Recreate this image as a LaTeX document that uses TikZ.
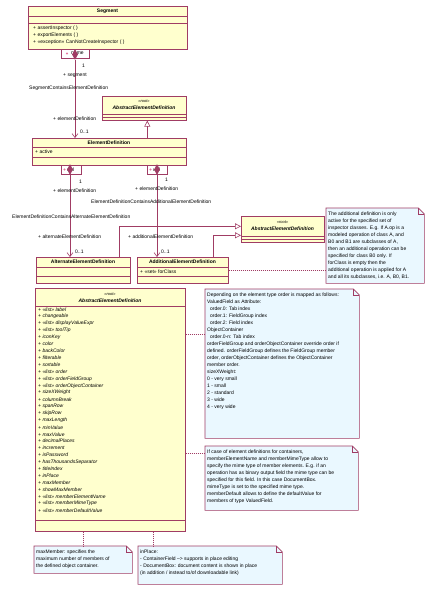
\documentclass[tikz,border=0pt]{standalone}
\usepackage{fontspec}
\setmainfont{Liberation Sans}
\usetikzlibrary{arrows.meta,shapes.geometric}
\definecolor{lc}{RGB}{160,60,100}
\definecolor{cf}{RGB}{255,255,206}
\definecolor{nf}{RGB}{234,248,255}
\definecolor{ic}{RGB}{230,120,160}
\newcommand\drawnote[1]{%
  \draw[notedraw] (#1.north west) -- ([xshift=-6pt]#1.north east) -- ([yshift=-6pt]#1.north east) -- (#1.south east) -- (#1.south west) -- cycle;
  \draw[lc, line width=0.5pt] ([xshift=-6pt]#1.north east) -- ([xshift=-6pt,yshift=-6pt]#1.north east) -- ([yshift=-6pt]#1.north east);
}
\begin{document}
\begin{tikzpicture}[x=1pt,y=-1pt,
  cls/.style={draw=lc, fill=cf, line width=0.6pt, inner sep=0, anchor=north west},
  qual/.style={draw=lc, fill=white, line width=0.6pt, inner sep=0, anchor=north west},
  cline/.style={draw=lc, line width=0.5pt},
  nbox/.style={inner sep=0, anchor=north west},
  notedraw/.style={draw=lc, fill=nf, line width=0.6pt},
  t/.style={font=\fontsize{5}{7}\selectfont, inner sep=0, anchor=west},
  ta/.style={font=\fontsize{5}{7}\selectfont\itshape, inner sep=0, anchor=west},
  ttl/.style={font=\fontsize{5}{7}\selectfont\bfseries, inner sep=0},
  attl/.style={font=\fontsize{5}{7}\selectfont\bfseries\itshape, inner sep=0},
  ster/.style={font=\fontsize{4}{5}\selectfont\itshape, inner sep=0},
  ntext/.style={font=\fontsize{5}{7}\selectfont, inner sep=0, align=left, anchor=north west},
  dia/.style={diamond, fill=lc, inner sep=0, minimum width=6pt, minimum height=11pt},
  assoc/.style={draw=lc, line width=0.6pt, -{Straight Barb[length=4pt,width=6pt]}},
  gen/.style={draw=lc, line width=0.6pt, -{Triangle[open,length=6pt,width=6pt]}},
  dotl/.style={draw=lc, line width=0.5pt, dash pattern=on 1pt off 1pt}
]
\useasboundingbox[fill=white] (0,0) rectangle (431,590);

% ---------- Segment ----------
\node[cls, minimum width=159pt, minimum height=43pt] (seg) at (28,6) {};
\draw[cline] (28,16) -- (187,16);
\draw[cline] (28,23) -- (187,23);
\node[ttl] (segt) at (107.5,11) {Segment};
\node[t] (op1) at (33,28) {+ assertInspector ( )};
\node[t] (op2) at (33,35) {+ exportElements ( )};
\node[t] (op3) at (33,42) {+ «exception» CanNotCreateInspector ( )};
\node[qual, minimum width=28pt, minimum height=9pt] (q1) at (61,49) {};
\fill[ic] (67,53.5) circle (1.2pt);
\node[t] (q1t) at (71,53.5) {name};
\node[dia] (d1) at (75,54.5) {};

% ---------- AbstractElementDefinition (top) ----------
\node[cls, minimum width=84pt, minimum height=24pt] (abs1) at (102,96) {};
\draw[cline] (102,114) -- (186,114);
\draw[cline] (102,117) -- (186,117);
\node[ster] (abs1s) at (144,101) {«root»};
\node[attl] (abs1t) at (144,108) {AbstractElementDefinition};

% ---------- ElementDefinition ----------
\node[cls, minimum width=154pt, minimum height=27pt] (ed) at (32,138) {};
\draw[cline] (32,147) -- (186,147);
\draw[cline] (32,157) -- (186,157);
\node[ttl] (edt) at (109,142.5) {ElementDefinition};
\node[t] (eda) at (35,152) {+ active};
\node[qual, minimum width=20pt, minimum height=9pt] (q2) at (61,165) {};
\fill[ic] (64.5,169.5) circle (1.1pt);
\node[t] (q2t) at (67,169.5) {uid};
\node[qual, minimum width=20pt, minimum height=9pt] (q3) at (147,165) {};
\fill[ic] (150.5,169.5) circle (1.1pt);
\node[t] (q3t) at (153,169.5) {uid};
\node[dia] (d2) at (70,169.5) {};
\node[dia] (d3) at (157,169.5) {};

% ---------- Alternate / Additional ----------
\node[cls, minimum width=94pt, minimum height=26pt] (alt) at (36,257) {};
\draw[cline] (36,267) -- (130,267);
\draw[cline] (36,276) -- (130,276);
\node[ttl] (altt) at (83,262) {AlternateElementDefinition};
\node[cls, minimum width=91pt, minimum height=26pt] (add) at (137,257) {};
\draw[cline] (137,267) -- (228,267);
\draw[cline] (137,276) -- (228,276);
\node[ttl] (addt) at (182.5,262) {AdditionalElementDefinition};
\node[t] (adda) at (140,271.5) {+ «set» forClass};

% ---------- AbstractElementDefinition (right) ----------
\node[cls, minimum width=83pt, minimum height=26pt] (abs2) at (241,216) {};
\draw[cline] (241,236) -- (324,236);
\draw[cline] (241,239) -- (324,239);
\node[ster] (abs2s) at (282.5,222) {«root»};
\node[attl] (abs2t) at (282.5,229) {AbstractElementDefinition};

% ---------- AbstractElementDefinition (big) ----------
\node[cls, minimum width=150pt, minimum height=243pt] (big) at (35,288) {};
\draw[cline] (35,306) -- (185,306);
\draw[cline] (35,520) -- (185,520);
\node[ster] (bigs) at (110,294) {«root»};
\node[attl] (bigt) at (110,300.5) {AbstractElementDefinition};
\foreach \a [count=\i from 0] in {%
  {+ «list» label},{+ changeable},{+ «list» displayValueExpr},{+ «list» toolTip},%
  {+ iconKey},{+ color},{+ backColor},{+ filterable},{+ sortable},{+ «list» order},%
  {+ «list» orderFieldGroup},{+ «list» orderObjectContainer},{+ sizeXWeight},%
  {+ columnBreak},{+ spanRow},{+ skipRow},{+ maxLength},{+ minValue},{+ maxValue},%
  {+ decimalPlaces},{+ increment},{+ isPassword},{+ hasThousandsSeparator},%
  {+ titleIndex},{+ inPlace},{+ maxMember},{+ showMaxMember},%
  {+ «list» memberElementName},{+ «list» memberMimeType},{+ «list» memberDefaultValue}}
  \node[ta] (attr\i) at (38,309.5+6.93*\i) {\a};

% ---------- Notes ----------
\node[nbox, minimum width=98pt, minimum height=75pt] (n1) at (326,208) {};
\drawnote{n1}
\node[ntext] (n1t) at ([xshift=2pt,yshift=-4pt]n1.north west) {The additional definition is only\\active for the specified set of\\inspector classes. E.g. If A.op is a\\modeled operation of class A, and\\B0 and B1 are subclasses of A,\\then an additional operation can be\\specified for class B0 only. If\\forClass is empty then the\\additional operation is applied for A\\and all its subclasses, i.e. A, B0, B1.};

\node[nbox, minimum width=154pt, minimum height=149pt] (n2) at (205,289) {};
\drawnote{n2}
\node[ntext] (n2t) at ([xshift=2pt,yshift=-4pt]n2.north west) {Depending on the element type order is mapped as follows:\\ValuedField as Attribute:\\\hspace*{3pt}order.0: Tab index\\\hspace*{3pt}order.1: FieldGroup index\\\hspace*{3pt}order.2: Field index\\ObjectContainer\\\hspace*{3pt}order.0-n: Tab index\\orderFieldGroup and orderObjectContainer override order if\\defined. orderFieldGroup defines the FieldGroup member\\order, orderObjectContainer defines the ObjectContainer\\member order.\\sizeXWeight:\\0 - very small\\1 - small\\2 - standard\\3 - wide\\4 - very wide};

\node[nbox, minimum width=153pt, minimum height=64pt] (n3) at (205,446) {};
\drawnote{n3}
\node[ntext] (n3t) at ([xshift=2pt,yshift=-3.5pt]n3.north west) {If case of element definitions for containers,\\memberElementName and memberMimeType allow to\\specify the mime type of member elements. E.g. if an\\operation has as binary output field the mime type can be\\specified for this field. In this case DocumentBox.\\mimeType is set to the specified mime type.\\memberDefault allows to define the defaultValue for\\members of type ValuedField.};

\node[nbox, minimum width=98pt, minimum height=27pt] (n4) at (34,546) {};
\drawnote{n4}
\node[ntext] (n4t) at ([xshift=2pt,yshift=-3.5pt]n4.north west) {maxMember: specifies the\\maximum number of members of\\the defined object container.};

\node[nbox, minimum width=144pt, minimum height=38pt] (n5) at (138,546) {};
\drawnote{n5}
\node[ntext] (n5t) at ([xshift=2pt,yshift=-3.5pt]n5.north west) {inPlace:\\- ContainerField --> supports in place editing\\- DocumentBox: document content is shown in place\\(in addition / instead to/of downloadable link)};

% ---------- Connectors ----------
\draw[assoc] (d1.south) -- (d1.south |- ed.north);
\coordinate (g1) at ([xshift=3pt]abs1.south);
\draw[gen] (g1 |- ed.north) -- (g1);
\draw[assoc] (d2.south) -- (d2.south |- alt.north);
\draw[assoc] (d3.south) -- (d3.south |- add.north);
\coordinate (g2) at ([xshift=-11pt]alt.north east);
\coordinate (g2e) at ([yshift=3pt]abs2.west);
\draw[gen] (g2) |- (g2e);
\coordinate (g3) at ([xshift=-15pt]add.north east);
\coordinate (g3e) at ([yshift=-6pt]abs2.west);
\draw[gen] (g3) |- (g3e);

\draw[dotl] (add.east) -- (add.east -| n1.west);
\coordinate (b1) at ([yshift=75.5pt]big.east);
\draw[dotl] (b1) -- (b1 -| n2.west);
\coordinate (b2) at ([yshift=-43.5pt]big.east);
\draw[dotl] (b2) -- (b2 -| n3.west);
\coordinate (b3) at ([xshift=-27pt]big.south);
\draw[dotl] (b3) -- (b3 |- n4.north);
\coordinate (b4) at ([xshift=43pt]big.south);
\draw[dotl] (b4) -- (b4 |- n5.north);

% ---------- Labels ----------
\node[t] (l1) at (82,66) {1};
\node[t] (l2) at (63,75) {+ segment};
\node[t] (l3) at (29,88) {SegmentContainsElementDefinition};
\node[t] (l4) at (53,119) {+ elementDefinition};
\node[t] (l5) at (80,132) {0..1};
\node[t] (l6) at (79,182) {1};
\node[t] (l7) at (53,191) {+ elementDefinition};
\node[t] (l8) at (165,180) {1};
\node[t] (l9) at (135,189) {+ elementDefinition};
\node[t] (l10) at (91,202) {ElementDefinitionContainsAdditionalElementDefinition};
\node[t] (l11) at (12,216.5) {ElementDefinitionContainsAlternateElementDefinition};
\node[t] (l12) at (38,237) {+ alternateElementDefinition};
\node[t] (l13) at (128,237) {+ additionalElementDefinition};
\node[t] (l14) at (75,252) {0..1};
\node[t] (l15) at (161,252) {0..1};
\end{tikzpicture}
\end{document}
